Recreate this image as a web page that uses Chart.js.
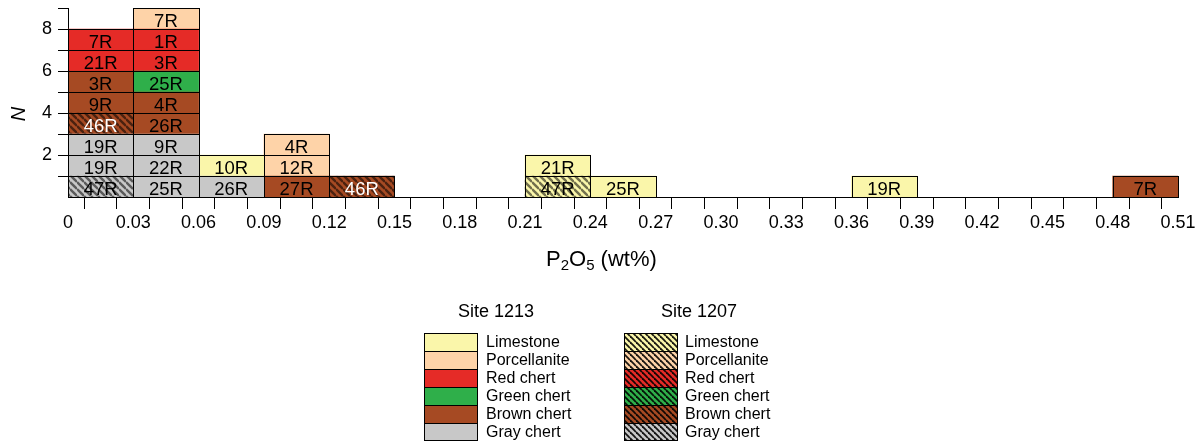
<!DOCTYPE html>
<html>
<head>
<meta charset="utf-8">
<script src="https://cdn.jsdelivr.net/npm/chart.js@4.4.1/dist/chart.umd.min.js"></script>
<style>
    html, body { margin: 0; padding: 0; background: #fff; }
    #wrap { width: 1204px; height: 447px; }
</style>
</head>
<body>
<div id="wrap"><canvas id="chart" width="1204" height="447"></canvas></div>
<script>
// P2O5 bins, 0.03 wt% wide
const bins = ['0-0.03', '0.03-0.06', '0.06-0.09', '0.09-0.12', '0.12-0.15', '0.15-0.18',
    '0.18-0.21', '0.21-0.24', '0.24-0.27', '0.27-0.30', '0.30-0.33', '0.33-0.36',
    '0.36-0.39', '0.39-0.42', '0.42-0.45', '0.45-0.48', '0.48-0.51'];

// one entry per sample, listed bottom to top inside each bin
const cellBin = [0, 0, 0, 0, 0, 0, 0, 0,
    1, 1, 1, 1, 1, 1, 1, 1, 1,
    2, 2,
    3, 3, 3,
    4,
    7, 7,
    8,
    12,
    16];
const cellCore = ['47R', '19R', '19R', '46R', '9R', '3R', '21R', '7R',
    '25R', '22R', '9R', '26R', '4R', '25R', '3R', '1R', '7R',
    '26R', '10R',
    '27R', '12R', '4R',
    '46R',
    '47R', '21R',
    '25R',
    '19R',
    '7R'];
const cellLith = ['Gray chert', 'Gray chert', 'Gray chert', 'Brown chert', 'Brown chert', 'Brown chert', 'Red chert', 'Red chert',
    'Gray chert', 'Gray chert', 'Gray chert', 'Brown chert', 'Brown chert', 'Green chert', 'Red chert', 'Red chert', 'Porcellanite',
    'Gray chert', 'Limestone',
    'Brown chert', 'Porcellanite', 'Porcellanite',
    'Brown chert',
    'Limestone', 'Limestone',
    'Limestone',
    'Limestone',
    'Brown chert'];
const cellSite = [1207, 1213, 1213, 1207, 1213, 1213, 1213, 1213,
    1213, 1213, 1213, 1213, 1213, 1213, 1213, 1213, 1213,
    1213, 1213,
    1213, 1213, 1213,
    1207,
    1207, 1213,
    1213,
    1213,
    1213];

const lithNames = ['Limestone', 'Porcellanite', 'Red chert', 'Green chert', 'Brown chert', 'Gray chert'];
const lithColors = ['#FAF6AA', '#FED3A8', '#E52B27', '#2FAF4A', '#A64A23', '#C8C8C8'];
const sites = ['Site 1213', 'Site 1207'];

const xTickLabels = ['0', '0.03', '0.06', '0.09', '0.12', '0.15', '0.18', '0.21', '0.24',
    '0.27', '0.30', '0.33', '0.36', '0.39', '0.42', '0.45', '0.48', '0.51'];
const yTickValues = [1, 2, 3, 4, 5, 6, 7, 8, 9];
const yTickLabels = ['', '2', '', '4', '', '6', '', '8', ''];

const FONT = '"Liberation Sans", Arial, Helvetica, sans-serif';
Chart.defaults.font.family = FONT;
Chart.defaults.color = '#000';

const canvas = document.getElementById('chart');
const ctx = canvas.getContext('2d');

function hatch(color, period, stripe, lw) {
    const c = document.createElement('canvas');
    c.width = period;
    c.height = period;
    const g = c.getContext('2d');
    g.fillStyle = color;
    g.fillRect(0, 0, period, period);
    g.strokeStyle = stripe;
    g.lineWidth = lw;
    for (const k of [-1, 0, 1]) {
        g.beginPath();
        g.moveTo(0, k * period);
        g.lineTo(period, period + k * period);
        g.stroke();
    }
    return ctx.createPattern(c, 'repeat');
}

const barHatch = lithColors.map(col => hatch(col, 7, 'rgba(0,0,0,0.55)', 2.4));
const keyHatch = lithColors.map(col => hatch(col, 6, 'rgba(0,0,0,0.9)', 1.8));

// tick positions every 0.015, labels on every other one
const xTickValues = [];
for (let i = 0; i <= 34; i++) xTickValues.push(i * 0.015);

const datasets = cellCore.map((core, i) => {
    const li = lithNames.indexOf(cellLith[i]);
    return {
        label: core,
        data: [{ x: bins[cellBin[i]], y: 1 }],
        backgroundColor: cellSite[i] === 1207 ? barHatch[li] : lithColors[li],
        borderWidth: 0,
        barPercentage: 1,
        categoryPercentage: 1,
        stack: 'n',
    };
});

const cellPlugin = {
    id: 'cells',
    afterDatasetsDraw(chart) {
        const c = chart.ctx;
        c.save();
        chart.data.datasets.forEach((ds, i) => {
            chart.getDatasetMeta(i).data.forEach(bar => {
                const l = Math.round(bar.x - bar.width / 2) + 0.5;
                const r = Math.round(bar.x + bar.width / 2) + 0.5;
                const t = Math.round(Math.min(bar.y, bar.base)) + 0.5;
                const b = Math.round(Math.max(bar.y, bar.base)) + 0.5;
                c.strokeStyle = '#000';
                c.lineWidth = 1;
                c.strokeRect(l, t, r - l, b - t);

                const dark = cellSite[i] === 1207 && cellLith[i] === 'Brown chert';
                c.fillStyle = dark ? '#fff' : '#000';
                c.font = '18.5px ' + FONT;
                c.textAlign = 'center';
                c.textBaseline = 'alphabetic';
                c.fillText(cellCore[i], bar.x, (t + b) / 2 + 7.6);
            });
        });
        c.restore();
    },
    afterDraw(chart) {
        const c = chart.ctx;
        c.save();
        c.fillStyle = '#000';
        c.textBaseline = 'alphabetic';
        c.textAlign = 'left';

        // x title P2O5 (wt%)
        let x = 546;
        const base = 266;
        const parts = [['P', 0], ['2', 1], ['O', 0], ['5', 1], [' (wt%)', 0]];
        parts.forEach(([txt, sub]) => {
            c.font = (sub ? '15px ' : '22px ') + FONT;
            c.fillText(txt, x, base + (sub ? 4 : 0));
            x += c.measureText(txt).width;
        });

        // y title N
        c.save();
        c.translate(25, 114);
        c.rotate(-Math.PI / 2);
        c.font = 'italic 20px ' + FONT;
        c.textAlign = 'center';
        c.fillText('N', 0, 0);
        c.restore();

        // legend
        const cols = [
            { boxX: 424, textX: 486, headX: 496, pats: null },
            { boxX: 624, textX: 685, headX: 699, pats: keyHatch },
        ];
        cols.forEach((col, ci) => {
            c.font = '18px ' + FONT;
            c.textAlign = 'center';
            c.fillStyle = '#000';
            c.fillText(sites[ci], col.headX, 317);
            lithNames.forEach((name, li) => {
                const top = 333 + Math.round(li * 17.9);
                const bot = 333 + Math.round((li + 1) * 17.9);
                c.fillStyle = col.pats ? col.pats[li] : lithColors[li];
                c.fillRect(col.boxX, top, 53, bot - top);
                c.strokeStyle = '#000';
                c.lineWidth = 1;
                c.strokeRect(col.boxX + 0.5, top + 0.5, 53, bot - top);
                c.fillStyle = '#000';
                c.font = '16px ' + FONT;
                c.textAlign = 'left';
                c.fillText(name, col.textX, top + 14);
            });
        });
        c.restore();
    },
};

new Chart(ctx, {
    type: 'bar',
    data: { labels: bins, datasets },
    options: {
        responsive: false,
        animation: false,
        layout: { padding: { left: 0, top: 8, right: 26, bottom: 210 } },
        plugins: { legend: { display: false }, tooltip: { enabled: false } },
        scales: {
            x: { type: 'category', display: false, stacked: true, offset: true },
            xv: {
                type: 'linear',
                position: 'bottom',
                min: 0,
                max: 0.51,
                offset: false,
                afterBuildTicks: s => { s.ticks = xTickValues.map(v => ({ value: v })); },
                afterFit: s => { s.height = 40; s.paddingLeft = 0; s.paddingRight = 0; },
                ticks: {
                    autoSkip: false,
                    maxRotation: 0,
                    padding: 3,
                    color: '#000',
                    font: { size: 18 },
                    callback: (v, i) => (i % 2 ? '' : xTickLabels[i / 2]),
                },
                grid: { drawOnChartArea: false, drawTicks: true, tickLength: 12, color: '#000' },
                border: { display: true, color: '#000', width: 1 },
            },
            y: {
                stacked: true,
                min: 0,
                max: 9,
                afterBuildTicks: s => { s.ticks = yTickValues.map(v => ({ value: v })); },
                afterFit: s => { s.width = 68; s.paddingTop = 0; s.paddingBottom = 0; },
                ticks: {
                    autoSkip: false,
                    padding: 6,
                    color: '#000',
                    font: { size: 18 },
                    callback: (v, i) => yTickLabels[i],
                },
                grid: { drawOnChartArea: false, drawTicks: true, tickLength: 10, color: '#000' },
                border: { display: true, color: '#000', width: 1 },
            },
        },
    },
    plugins: [cellPlugin],
});
</script>
</body>
</html>
